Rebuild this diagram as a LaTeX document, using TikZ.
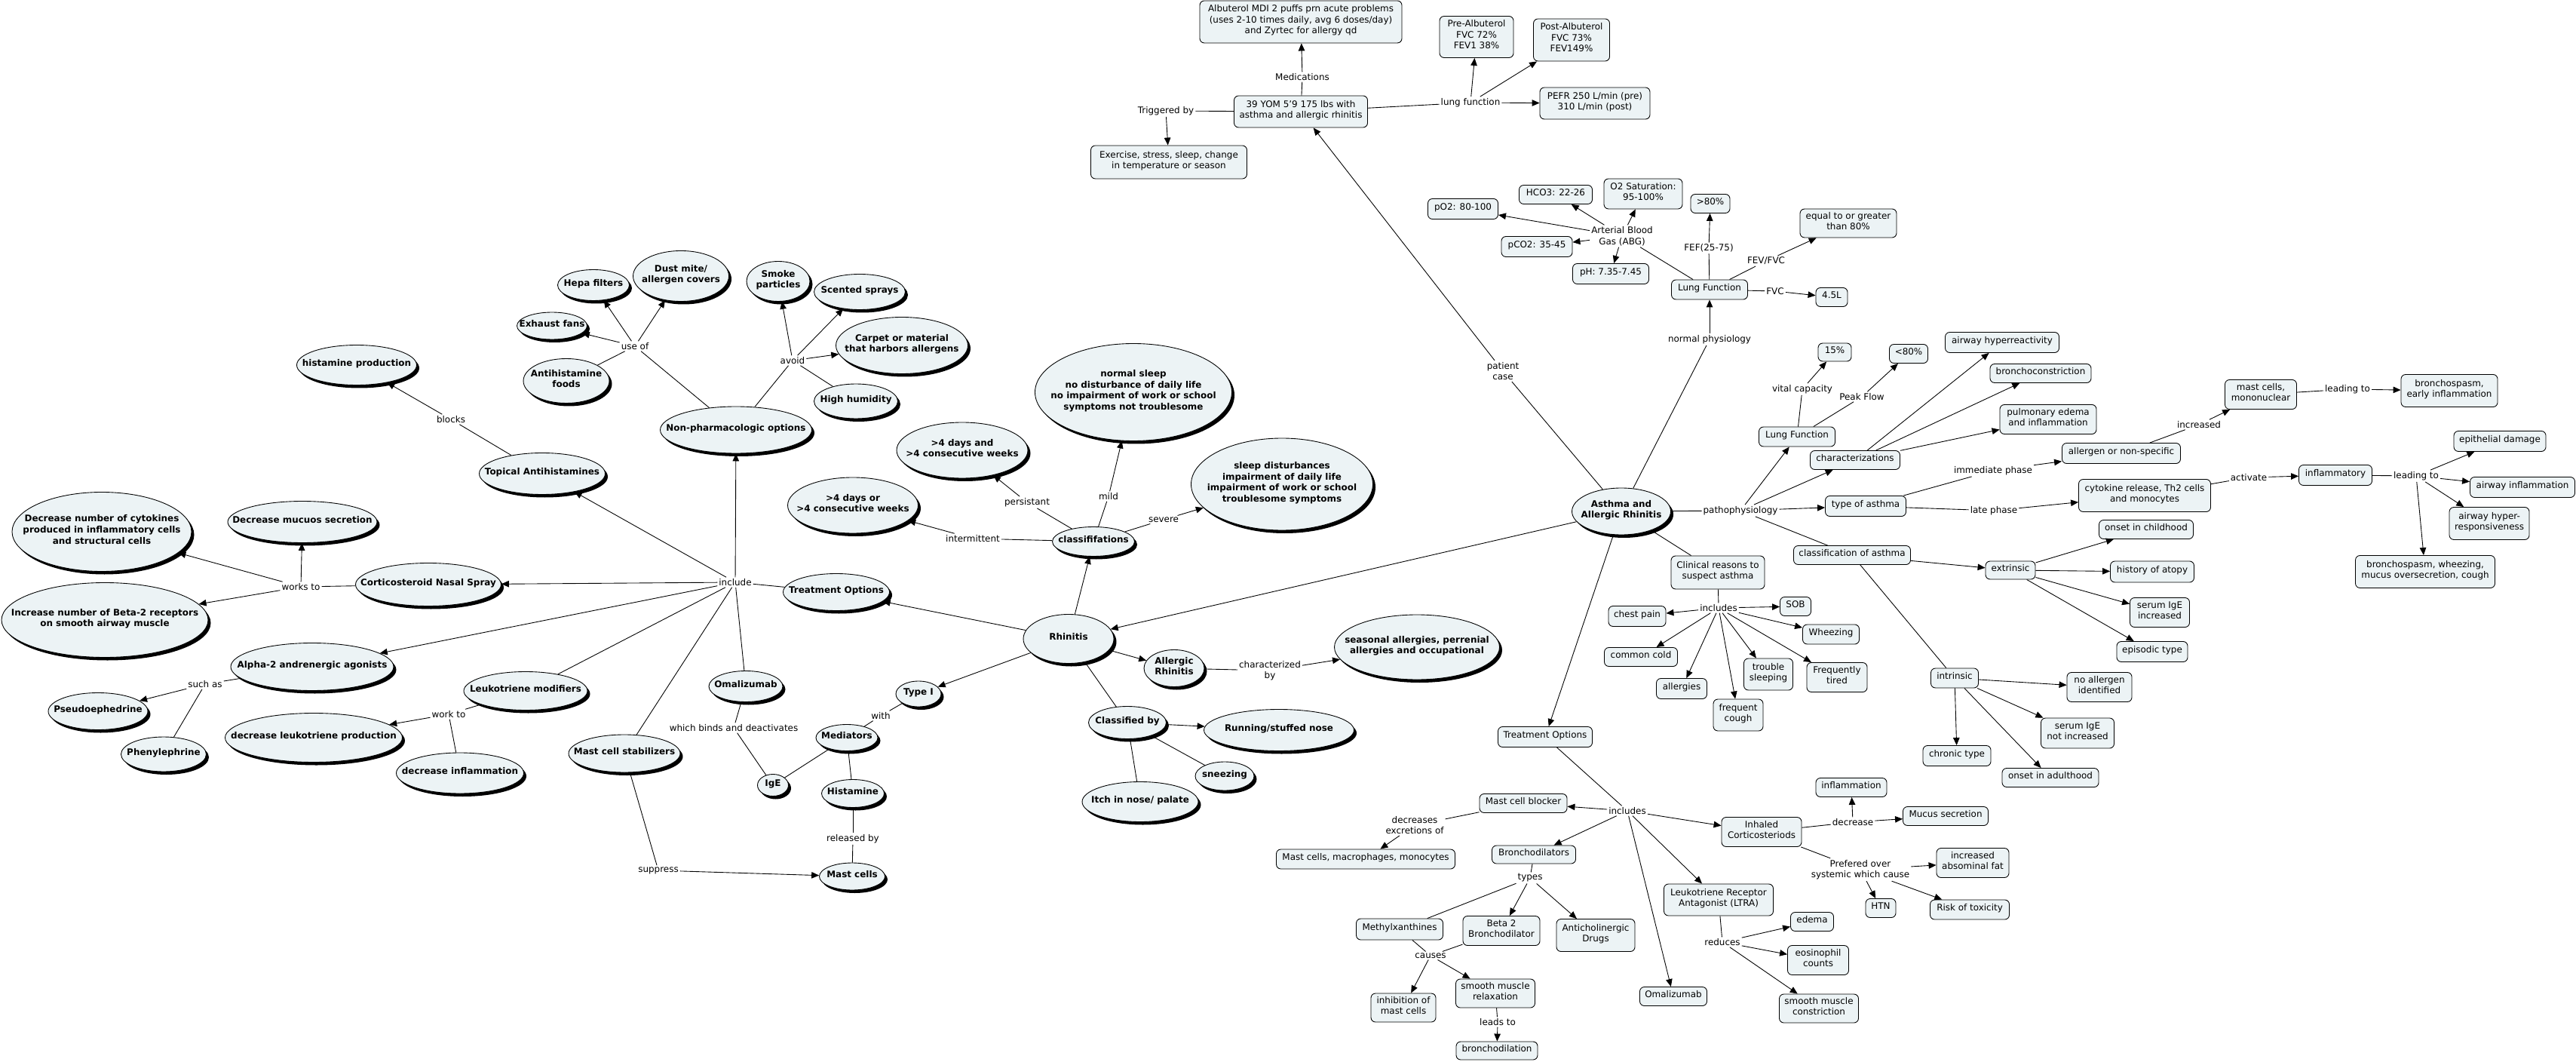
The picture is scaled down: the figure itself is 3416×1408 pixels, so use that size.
\documentclass[tikz,border=0pt]{standalone}
\usepackage{fontspec}
\setmainfont{DejaVu Sans}
\usetikzlibrary{arrows.meta,shapes.geometric,shadows}

\definecolor{conceptfill}{RGB}{236,243,245}
% text of zero size, so that the node keeps the size given by sz
\newcommand{\ctext}[1]{\smash{\makebox[0pt]{\raisebox{-0.9pt}{\begin{tabular}{@{}c@{}}#1\end{tabular}}}}}

\tikzset{
  sz/.style 2 args={minimum width=#1*0.02cm, minimum height=#2*0.02cm},
  concept/.style={ellipse, draw, line width=0.5pt, fill=conceptfill, inner sep=0pt,
    font=\fontsize{6.8}{8.3}\selectfont\bfseries,
    drop shadow={shadow xshift=0.07cm, shadow yshift=-0.08cm, fill=black, opacity=1}},
  box/.style={rectangle, rounded corners=0.12cm, draw, line width=0.5pt,
    fill=conceptfill, inner sep=0pt, font=\fontsize{6.8}{8.3}\selectfont},
  phrase/.style={inner sep=1pt, align=center, font=\fontsize{6.8}{8.3}\selectfont},
  conn/.style={draw, line width=0.5pt},
  arr/.style={conn, -{Triangle[length=0.2cm, width=0.17cm]}},
}

\begin{document}
\begin{tikzpicture}[x=0.02cm, y=-0.02cm]
  \useasboundingbox (0,0) rectangle (3416,1408);

  % Rhinitis side: concepts
  \node[concept, sz={95}{41}] (hepa) at (787,378) {\ctext{Hepa filters}};
  \node[concept, sz={93}{36}] (exhaust) at (732,432) {\ctext{Exhaust fans}};
  \node[concept, sz={114}{59}] (antifood) at (751,505) {\ctext{Antihistamine\\foods}};
  \node[concept, sz={127}{67}] (dustmite) at (903,366) {\ctext{Dust mite/\\allergen covers}};
  \node[concept, sz={84}{53}] (smoke) at (1032,373) {\ctext{Smoke\\particles}};
  \node[concept, sz={121}{47}] (scented) at (1140,387) {\ctext{Scented sprays}};
  \node[concept, sz={175}{75}] (carpet) at (1196,458) {\ctext{Carpet or material\\that harbors allergens}};
  \node[concept, sz={111}{46}] (humidity) at (1135,532) {\ctext{High humidity}};
  \node[concept, sz={201}{62}] (nonpharm) at (976,570) {\ctext{Non-pharmacologic options}};
  \node[concept, sz={159}{53}] (histprod) at (473,484) {\ctext{histamine production}};
  \node[concept, sz={167}{55}] (topical) at (719,628) {\ctext{Topical Antihistamines}};
  \node[concept, sz={238}{105}] (cytokines) at (135,705) {\ctext{Decrease number of cytokines\\produced in inflammatory cells\\and structural cells}};
  \node[concept, sz={198}{55}] (decmucus) at (401,692) {\ctext{Decrease mucuos secretion}};
  \node[concept, sz={193}{57}] (nasalspray) at (568,775) {\ctext{Corticosteroid Nasal Spray}};
  \node[concept, sz={274}{99}] (betarec) at (139,822) {\ctext{Increase number of Beta-2 receptors\\on smooth airway muscle}};
  \node[concept, sz={216}{63}] (alpha) at (414,884) {\ctext{Alpha-2 andrenergic agonists}};
  \node[concept, sz={132}{49}] (pseudo) at (130,943) {\ctext{Pseudoephedrine}};
  \node[concept, sz={113}{46}] (phenyl) at (217,1000) {\ctext{Phenylephrine}};
  \node[concept, sz={164}{51}] (leuko) at (697,916) {\ctext{Leukotriene modifiers}};
  \node[concept, sz={235}{65}] (decleuko) at (416,978) {\ctext{decrease leukotriene production}};
  \node[concept, sz={169}{54}] (decinflam) at (610,1025) {\ctext{decrease inflammation}};
  \node[concept, sz={148}{50}] (mcstab) at (828,999) {\ctext{Mast cell stabilizers}};
  \node[concept, sz={98}{41}] (omalell) at (989,910) {\ctext{Omalizumab}};
  \node[concept, sz={41}{29}] (ige) at (1025,1041) {\ctext{IgE}};
  \node[concept, sz={60}{34}] (typeone) at (1218,920) {\ctext{Type I}};
  \node[concept, sz={82}{35}] (mediators) at (1123,978) {\ctext{Mediators}};
  \node[concept, sz={83}{37}] (histamine) at (1131,1052) {\ctext{Histamine}};
  \node[concept, sz={87}{36}] (mastcells) at (1130,1162) {\ctext{Mast cells}};
  \node[concept, sz={261}{129}] (mildsym) at (1503,520) {\ctext{normal sleep\\no disturbance of daily life\\no impairment of work or school\\symptoms not troublesome}};
  \node[concept, sz={174}{74}] (persist) at (1276,597) {\ctext{>4 days and\\>4 consecutive weeks}};
  \node[concept, sz={173}{74}] (intermit) at (1131,670) {\ctext{>4 days or\\>4 consecutive weeks}};
  \node[concept, sz={109}{39}] (classif) at (1450,718) {\ctext{classififations}};
  \node[concept, sz={141}{49}] (txell) at (1109,785) {\ctext{Treatment Options}};
  \node[concept, sz={120}{65}] (rhinitis) at (1417,847) {\ctext{Rhinitis}};
  \node[concept, sz={241}{122}] (severesym) at (1700,642) {\ctext{sleep disturbances\\impairment of daily life\\impairment of work or school\\troublesome symptoms}};
  \node[concept, sz={219}{86}] (seasonal) at (1879,858) {\ctext{seasonal allergies, perrenial\\allergies and occupational}};
  \node[concept, sz={80}{49}] (allergic) at (1557,886) {\ctext{Allergic\\Rhinitis}};
  \node[concept, sz={103}{43}] (classby) at (1495,958) {\ctext{Classified by}};
  \node[concept, sz={199}{55}] (running) at (1696,968) {\ctext{Running/stuffed nose}};
  \node[concept, sz={78}{38}] (sneezing) at (1624,1029) {\ctext{sneezing}};
  \node[concept, sz={154}{53}] (itch) at (1512,1063) {\ctext{Itch in nose/ palate}};
  \node[concept, sz={131}{62}] (asthma) at (2150,678) {\ctext{Asthma and\\Allergic Rhinitis}};

  % Rhinitis side: linking phrases
  \node[phrase] (useof) at (842,459) {use of};
  \node[phrase] (avoid) at (1051,478) {avoid};
  \node[phrase] (blocks) at (598,556) {blocks};
  \node[phrase] (worksto) at (399,778) {works to};
  \node[phrase] (suchas) at (272,907) {such as};
  \node[phrase] (workto) at (595,947) {work to};
  \node[phrase] (binds) at (973,965) {which binds and deactivates};
  \node[phrase] (suppress) at (873,1154) {suppress};
  \node[phrase] (include) at (975,772) {include};
  \node[phrase] (intermitlab) at (1290,714) {intermittent};
  \node[phrase] (persistlab) at (1362,666) {persistant};
  \node[phrase] (mildlab) at (1470,658) {mild};
  \node[phrase] (severelab) at (1543,689) {severe};
  \node[phrase] (with) at (1168,949) {with};
  \node[phrase] (releasedby) at (1131,1112) {released by};
  \node[phrase] (charby) at (1684,889) {characterized\\by};

  % Asthma side: concepts
  \node[box, sz={268}{56}] (albuterol) at (1725,29) {\ctext{Albuterol MDI 2 puffs prn acute problems\\(uses 2-10 times daily, avg 6 doses/day)\\and Zyrtec for allergy qd}};
  \node[box, sz={177}{42}] (patient) at (1725,148) {\ctext{39 YOM 5'9 175 lbs with\\asthma and allergic rhinitis}};
  \node[box, sz={207}{44}] (exercise) at (1550,215) {\ctext{Exercise, stress, sleep, change\\in temperature or season}};
  \node[box, sz={98}{55}] (pre) at (1958,49) {\ctext{Pre-Albuterol\\FVC 72\%\\FEV1 38\%}};
  \node[box, sz={101}{56}] (post) at (2084,53) {\ctext{Post-Albuterol\\FVC 73\%\\FEV149\%}};
  \node[box, sz={146}{42}] (pefr) at (2115,137) {\ctext{PEFR 250 L/min (pre)\\310 L/min (post)}};
  \node[box, sz={93}{27}] (po2) at (1940,277) {\ctext{pO2: 80-100}};
  \node[box, sz={97}{25}] (hco3) at (2063,258) {\ctext{HCO3: 22-26}};
  \node[box, sz={104}{40}] (o2sat) at (2179,257) {\ctext{O2 Saturation:\\95-100\%}};
  \node[box, sz={52}{25}] (gteighty) at (2268,270) {\ctext{>80\%}};
  \node[box, sz={94}{27}] (pco2) at (2038,327) {\ctext{pCO2: 35-45}};
  \node[box, sz={101}{27}] (ph) at (2136,363) {\ctext{pH: 7.35-7.45}};
  \node[box, sz={101}{26}] (lungfn) at (2267,384) {\ctext{Lung Function}};
  \node[box, sz={128}{38}] (eqeighty) at (2451,296) {\ctext{equal to or greater\\than 80\%}};
  \node[box, sz={42}{25}] (fourfive) at (2429,394) {\ctext{4.5L}};
  \node[box, sz={44}{24}] (fifteen) at (2433,467) {\ctext{15\%}};
  \node[box, sz={51}{25}] (lteighty) at (2531,469) {\ctext{<80\%}};
  \node[box, sz={101}{26}] (lungfnp) at (2383,579) {\ctext{Lung Function}};
  \node[box, sz={119}{25}] (charac) at (2460,610) {\ctext{characterizations}};
  \node[box, sz={107}{27}] (typeast) at (2474,671) {\ctext{type of asthma}};
  \node[box, sz={151}{27}] (hyperreact) at (2655,454) {\ctext{airway hyperreactivity}};
  \node[box, sz={134}{25}] (bronchoc) at (2706,495) {\ctext{bronchoconstriction}};
  \node[box, sz={128}{39}] (pulmedema) at (2716,556) {\ctext{pulmonary edema\\and inflammation}};
  \node[box, sz={95}{39}] (mastmono) at (2998,523) {\ctext{mast cells,\\mononuclear}};
  \node[box, sz={128}{43}] (bsearly) at (3248,518) {\ctext{bronchospasm,\\early inflammation}};
  \node[box, sz={157}{27}] (allergen) at (2813,601) {\ctext{allergen or non-specific}};
  \node[box, sz={175}{43}] (cytorel) at (2844,657) {\ctext{cytokine release, Th2 cells\\and monocytes}};
  \node[box, sz={97}{27}] (inflamm) at (3097,630) {\ctext{inflammatory}};
  \node[box, sz={122}{27}] (epith) at (3315,585) {\ctext{epithelial damage}};
  \node[box, sz={139}{27}] (airinfl) at (3345,646) {\ctext{airway inflammation}};
  \node[box, sz={106}{43}] (hyperresp) at (3301,694) {\ctext{airway hyper-\\responsiveness}};
  \node[box, sz={185}{43}] (bswheeze) at (3216,758) {\ctext{bronchospasm, wheezing,\\mucus oversecretion, cough}};
  \node[box, sz={155}{25}] (classast) at (2456,736) {\ctext{classification of asthma}};
  \node[box, sz={66}{24}] (extrinsic) at (2666,756) {\ctext{extrinsic}};
  \node[box, sz={125}{25}] (childhood) at (2846,702) {\ctext{onset in childhood}};
  \node[box, sz={111}{28}] (atopy) at (2854,758) {\ctext{history of atopy}};
  \node[box, sz={79}{39}] (igeinc) at (2864,812) {\ctext{serum IgE\\increased}};
  \node[box, sz={94}{27}] (episodic) at (2854,864) {\ctext{episodic type}};
  \node[box, sz={63}{26}] (intrinsic) at (2592,899) {\ctext{intrinsic}};
  \node[box, sz={86}{39}] (noallergen) at (2784,911) {\ctext{no allergen\\identified}};
  \node[box, sz={97}{40}] (igenot) at (2755,972) {\ctext{serum IgE\\not increased}};
  \node[box, sz={90}{27}] (chronic) at (2595,1002) {\ctext{chronic type}};
  \node[box, sz={128}{25}] (adulthood) at (2719,1031) {\ctext{onset in adulthood}};
  \node[box, sz={124}{44}] (clinical) at (2278,759) {\ctext{Clinical reasons to\\suspect asthma}};
  \node[box, sz={41}{25}] (sob) at (2381,804) {\ctext{SOB}};
  \node[box, sz={76}{27}] (chestpain) at (2171,817) {\ctext{chest pain}};
  \node[box, sz={75}{26}] (wheezing) at (2428,841) {\ctext{Wheezing}};
  \node[box, sz={97}{25}] (cold) at (2176,871) {\ctext{common cold}};
  \node[box, sz={67}{27}] (allergies) at (2230,913) {\ctext{allergies}};
  \node[box, sz={65}{42}] (trouble) at (2345,894) {\ctext{trouble\\sleeping}};
  \node[box, sz={80}{39}] (tired) at (2436,898) {\ctext{Frequently\\tired}};
  \node[box, sz={66}{42}] (cough) at (2305,948) {\ctext{frequent\\cough}};
  \node[box, sz={125}{27}] (txbox) at (2049,977) {\ctext{Treatment Options}};
  \node[box, sz={116}{25}] (blocker) at (2020,1065) {\ctext{Mast cell blocker}};
  \node[box, sz={237}{26}] (macro) at (1811,1139) {\ctext{Mast cells, macrophages, monocytes}};
  \node[box, sz={111}{24}] (bronchod) at (2034,1133) {\ctext{Bronchodilators}};
  \node[box, sz={106}{39}] (inhaled) at (2336,1103) {\ctext{Inhaled\\Corticosteriods}};
  \node[box, sz={94}{25}] (inflbox) at (2455,1044) {\ctext{inflammation}};
  \node[box, sz={113}{25}] (mucussec) at (2580,1082) {\ctext{Mucus secretion}};
  \node[box, sz={40}{25}] (htn) at (2494,1204) {\ctext{HTN}};
  \node[box, sz={96}{39}] (absfat) at (2616,1144) {\ctext{increased\\absominal fat}};
  \node[box, sz={105}{26}] (toxicity) at (2612,1206) {\ctext{Risk of toxicity}};
  \node[box, sz={145}{42}] (ltra) at (2279,1193) {\ctext{Leukotriene Receptor\\Antagonist (LTRA)}};
  \node[box, sz={115}{28}] (methyl) at (1856,1232) {\ctext{Methylxanthines}};
  \node[box, sz={102}{39}] (betatwo) at (1991,1234) {\ctext{Beta 2\\Bronchodilator}};
  \node[box, sz={104}{43}] (anticho) at (2116,1240) {\ctext{Anticholinergic\\Drugs}};
  \node[box, sz={57}{25}] (edema) at (2403,1222) {\ctext{edema}};
  \node[box, sz={81}{39}] (eosin) at (2411,1273) {\ctext{eosinophil\\counts}};
  \node[box, sz={86}{38}] (inhib) at (1861,1336) {\ctext{inhibition of\\mast cells}};
  \node[box, sz={105}{38}] (smrelax) at (1983,1317) {\ctext{smooth muscle\\relaxation}};
  \node[box, sz={108}{24}] (bdilation) at (1985,1393) {\ctext{bronchodilation}};
  \node[box, sz={89}{25}] (omalbox) at (2219,1321) {\ctext{Omalizumab}};
  \node[box, sz={105}{38}] (smconstr) at (2412,1337) {\ctext{smooth muscle\\constriction}};

  % Asthma side: linking phrases
  \node[phrase] (patientcase) at (1993,492) {patient\\case};
  \node[phrase] (medications) at (1727,102) {Medications};
  \node[phrase] (triggered) at (1546,147) {Triggered by};
  \node[phrase] (lungfnlab) at (1950,136) {lung function};
  \node[phrase] (normalphys) at (2267,450) {normal physiology};
  \node[phrase] (abg) at (2151,313) {Arterial Blood\\Gas (ABG)};
  \node[phrase] (fef) at (2266,329) {FEF(25-75)};
  \node[phrase] (fevfvc) at (2342,346) {FEV/FVC};
  \node[phrase] (fvc) at (2354,386) {FVC};
  \node[phrase] (patho) at (2308,677) {pathophysiology};
  \node[phrase] (vitalcap) at (2390,516) {vital capacity};
  \node[phrase] (peakflow) at (2469,526) {Peak Flow};
  \node[phrase] (immediate) at (2643,624) {immediate phase};
  \node[phrase] (latephase) at (2644,677) {late phase};
  \node[phrase] (increased) at (2916,563) {increased};
  \node[phrase] (leadingA) at (3113,516) {leading to};
  \node[phrase] (activate) at (2982,633) {activate};
  \node[phrase] (leadingB) at (3204,631) {leading to};
  \node[phrase] (includesA) at (2279,806) {includes};
  \node[phrase] (includesB) at (2158,1075) {includes};
  \node[phrase] (decexcr) at (1876,1094) {decreases\\excretions of};
  \node[phrase] (types) at (2029,1164) {types};
  \node[phrase] (causes) at (1897,1267) {causes};
  \node[phrase] (leadsto) at (1986,1355) {leads to};
  \node[phrase] (decrease) at (2457,1090) {decrease};
  \node[phrase] (prefered) at (2467,1153) {Prefered over\\systemic which cause};
  \node[phrase] (reduces) at (2284,1249) {reduces};

  % Rhinitis side: connectors
  \draw[conn] (nonpharm) -- (useof);
  \draw[arr] (useof) -- (hepa);
  \draw[arr] (useof) -- (exhaust);
  \draw[arr] (useof) -- (dustmite);
  \draw[conn] (useof) -- (antifood);
  \draw[conn] (nonpharm) -- (avoid);
  \draw[arr] (avoid) -- (smoke);
  \draw[arr] (avoid) -- (scented);
  \draw[arr] (avoid) -- (carpet);
  \draw[conn] (avoid) -- (humidity);
  \draw[conn] (topical) -- (blocks);
  \draw[arr] (blocks) -- (histprod);
  \draw[conn] (nasalspray) -- (worksto);
  \draw[arr] (worksto) -- (decmucus);
  \draw[arr] (worksto) -- (cytokines);
  \draw[arr] (worksto) -- (betarec);
  \draw[conn] (alpha) -- (suchas);
  \draw[arr] (suchas) -- (pseudo);
  \draw[conn] (suchas) -- (phenyl);
  \draw[conn] (leuko) -- (workto);
  \draw[arr] (workto) -- (decleuko);
  \draw[conn] (workto) -- (decinflam);
  \draw[conn] (omalell) -- (binds);
  \draw[conn] (binds) -- (ige);
  \draw[conn] (mcstab) -- (suppress);
  \draw[arr] (suppress) -- (mastcells);
  \draw[conn] (txell) -- (include);
  \draw[arr] (include) -- (nonpharm);
  \draw[arr] (include) -- (topical);
  \draw[arr] (include) -- (nasalspray);
  \draw[arr] (include) -- (alpha);
  \draw[conn] (include) -- (leuko);
  \draw[conn] (include) -- (mcstab);
  \draw[conn] (include) -- (omalell);
  \draw[arr] (rhinitis) -- (txell);
  \draw[arr] (rhinitis) -- (classif);
  \draw[arr] (rhinitis) -- (typeone);
  \draw[arr] (rhinitis) -- (allergic);
  \draw[conn] (rhinitis) -- (classby);
  \draw[conn] (classif) -- (intermitlab);
  \draw[arr] (intermitlab) -- (intermit);
  \draw[conn] (classif) -- (persistlab);
  \draw[arr] (persistlab) -- (persist);
  \draw[conn] (classif) -- (mildlab);
  \draw[arr] (mildlab) -- (mildsym);
  \draw[conn] (classif) -- (severelab);
  \draw[arr] (severelab) -- (severesym);
  \draw[conn] (typeone) -- (with);
  \draw[conn] (with) -- (mediators);
  \draw[conn] (mediators) -- (ige);
  \draw[conn] (mediators) -- (histamine);
  \draw[conn] (histamine) -- (releasedby);
  \draw[conn] (releasedby) -- (mastcells);
  \draw[conn] (allergic) -- (charby);
  \draw[arr] (charby) -- (seasonal);
  \draw[arr] (classby) -- (running);
  \draw[conn] (classby) -- (sneezing);
  \draw[conn] (classby) -- (itch);

  % Asthma side: connectors
  \draw[arr] (asthma) -- (rhinitis);
  \draw[conn] (asthma) -- (patientcase);
  \draw[arr] (patientcase) -- (patient);
  \draw[conn] (patient) -- (medications);
  \draw[arr] (medications) -- (albuterol);
  \draw[conn] (patient) -- (triggered);
  \draw[arr] (triggered) -- (exercise);
  \draw[conn] (patient) -- (lungfnlab);
  \draw[arr] (lungfnlab) -- (pre);
  \draw[arr] (lungfnlab) -- (post);
  \draw[arr] (lungfnlab) -- (pefr);
  \draw[conn] (asthma) -- (normalphys);
  \draw[arr] (normalphys) -- (lungfn);
  \draw[conn] (lungfn) -- (abg);
  \draw[arr] (abg) -- (po2);
  \draw[arr] (abg) -- (hco3);
  \draw[arr] (abg) -- (o2sat);
  \draw[arr] (abg) -- (pco2);
  \draw[arr] (abg) -- (ph);
  \draw[conn] (lungfn) -- (fef);
  \draw[arr] (fef) -- (gteighty);
  \draw[conn] (lungfn) -- (fevfvc);
  \draw[arr] (fevfvc) -- (eqeighty);
  \draw[conn] (lungfn) -- (fvc);
  \draw[arr] (fvc) -- (fourfive);
  \draw[conn] (asthma) -- (patho);
  \draw[arr] (patho) -- (lungfnp);
  \draw[arr] (patho) -- (charac);
  \draw[arr] (patho) -- (typeast);
  \draw[conn] (patho) -- (classast);
  \draw[conn] (lungfnp) -- (vitalcap);
  \draw[arr] (vitalcap) -- (fifteen);
  \draw[conn] (lungfnp) -- (peakflow);
  \draw[arr] (peakflow) -- (lteighty);
  \draw[arr] (charac) -- (hyperreact);
  \draw[arr] (charac) -- (bronchoc);
  \draw[arr] (charac) -- (pulmedema);
  \draw[conn] (typeast) -- (immediate);
  \draw[arr] (immediate) -- (allergen);
  \draw[conn] (allergen) -- (increased);
  \draw[arr] (increased) -- (mastmono);
  \draw[conn] (mastmono) -- (leadingA);
  \draw[arr] (leadingA) -- (bsearly);
  \draw[conn] (typeast) -- (latephase);
  \draw[arr] (latephase) -- (cytorel);
  \draw[conn] (cytorel) -- (activate);
  \draw[arr] (activate) -- (inflamm);
  \draw[conn] (inflamm) -- (leadingB);
  \draw[arr] (leadingB) -- (epith);
  \draw[arr] (leadingB) -- (airinfl);
  \draw[arr] (leadingB) -- (hyperresp);
  \draw[arr] (leadingB) -- (bswheeze);
  \draw[arr] (classast) -- (extrinsic);
  \draw[conn] (classast) -- (intrinsic);
  \draw[arr] (extrinsic) -- (childhood);
  \draw[arr] (extrinsic) -- (atopy);
  \draw[arr] (extrinsic) -- (igeinc);
  \draw[arr] (extrinsic) -- (episodic);
  \draw[arr] (intrinsic) -- (noallergen);
  \draw[arr] (intrinsic) -- (igenot);
  \draw[arr] (intrinsic) -- (chronic);
  \draw[arr] (intrinsic) -- (adulthood);
  \draw[conn] (asthma) -- (clinical);
  \draw[conn] (clinical) -- (includesA);
  \draw[arr] (includesA) -- (sob);
  \draw[arr] (includesA) -- (chestpain);
  \draw[arr] (includesA) -- (wheezing);
  \draw[arr] (includesA) -- (cold);
  \draw[arr] (includesA) -- (allergies);
  \draw[arr] (includesA) -- (trouble);
  \draw[arr] (includesA) -- (tired);
  \draw[arr] (includesA) -- (cough);
  \draw[arr] (asthma) -- (txbox);
  \draw[conn] (txbox) -- (includesB);
  \draw[arr] (includesB) -- (blocker);
  \draw[arr] (includesB) -- (bronchod);
  \draw[arr] (includesB) -- (inhaled);
  \draw[arr] (includesB) -- (ltra);
  \draw[arr] (includesB) -- (omalbox);
  \draw[conn] (blocker) -- (decexcr);
  \draw[arr] (decexcr) -- (macro);
  \draw[conn] (bronchod) -- (types);
  \draw[conn] (types) -- (methyl);
  \draw[arr] (types) -- (betatwo);
  \draw[arr] (types) -- (anticho);
  \draw[conn] (methyl) -- (causes);
  \draw[conn] (betatwo) -- (causes);
  \draw[arr] (causes) -- (inhib);
  \draw[arr] (causes) -- (smrelax);
  \draw[conn] (smrelax) -- (leadsto);
  \draw[arr] (leadsto) -- (bdilation);
  \draw[conn] (inhaled) -- (decrease);
  \draw[arr] (decrease) -- (inflbox);
  \draw[arr] (decrease) -- (mucussec);
  \draw[conn] (inhaled) -- (prefered);
  \draw[arr] (prefered) -- (htn);
  \draw[arr] (prefered) -- (absfat);
  \draw[arr] (prefered) -- (toxicity);
  \draw[conn] (ltra) -- (reduces);
  \draw[arr] (reduces) -- (edema);
  \draw[arr] (reduces) -- (eosin);
  \draw[arr] (reduces) -- (smconstr);
\end{tikzpicture}
\end{document}
